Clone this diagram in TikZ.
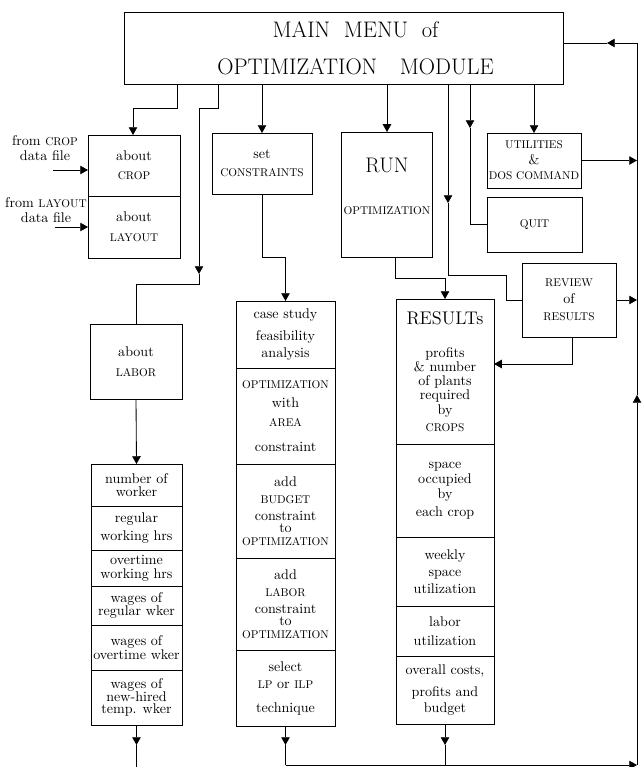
\documentclass[tikz,border=0pt]{standalone}
\usepackage{fontspec}
\usepackage{tikz}
\usetikzlibrary{positioning,arrows.meta}
\newfontfamily\ucfont{lmroman10-regular.otf}
\newcommand{\uc}[1]{{\ucfont\fontsize{8}{9}\selectfont #1}}

\begin{document}
\begin{tikzpicture}[x=0.025cm, y=-0.025cm, line width=0.6pt,
    box/.style={rectangle, draw, align=center, inner sep=0pt, outer sep=0pt, font=\fontsize{10}{12}\selectfont},
    lbl/.style={align=center, inner sep=0pt, font=\fontsize{10}{11}\selectfont},
    arr/.style={-{Triangle[length=5.5pt,width=6pt]}}]
    \useasboundingbox (0,0) rectangle (642,767);
    % main menu
    \node [box, minimum width=10.975cm, minimum height=1.8cm, font=\fontsize{16}{26}\selectfont] (main) at (343.5,48) {\hspace*{0.6cm}MAIN\ \ MENU\ \ of\\\hspace*{0.6cm}OPTIMIZATION\quad MODULE};

    % crop and layout
    \node [box, minimum width=2.3cm, minimum height=1.525cm, anchor=north] (crop) at (134,135) {about\\[1.5pt]\uc{CROP}};
    \node [box, minimum width=2.3cm, minimum height=1.55cm, below=0pt of crop] (layout) {about\\[2pt]\uc{LAYOUT}};
    \node [lbl] (fromcrop) at (45,148) {from \uc{CROP}\\data file};
    \node [lbl] (fromlayout) at (46,210) {from \uc{LAYOUT}\\data file};

    % single boxes
    \node [box, minimum width=2.5cm, minimum height=1.525cm] (setc) at (262,163.5) {set\\[1pt]\uc{CONSTRAINTS}};
    \node [box, minimum width=2.275cm, minimum height=3.125cm] (run) at (387,194.5) {{\fontsize{15}{17}\selectfont RUN}\\[18pt]\uc{OPTIMIZATION}\\[-0.6pt]\mbox{}};
    \node [box, minimum width=2.35cm, minimum height=1.375cm] (util) at (534,160.5) {\uc{UTILITIES}\\[-1pt]\&\\[-1pt]\uc{DOS COMMAND}};
    \node [box, minimum width=2.375cm, minimum height=1.375cm] (quit) at (534.5,224.5) {\uc{QUIT}};
    \node [box, minimum width=2.35cm, minimum height=1.85cm] (review) at (569,300) {\uc{REVIEW}\\of\\ \uc{RESULTS}};
    \node [box, minimum width=2.3cm, minimum height=1.875cm] (labor) at (136,361.5) {about\\[2pt]\uc{LABOR}};

    % constraints column
    \node [box, minimum width=2.475cm, minimum height=1.675cm, anchor=north] (casestudy) at (285.5,301) {case study\\[4pt]feasibility\\analysis};
    \node [box, minimum width=2.475cm, minimum height=2.4cm, below=0pt of casestudy] (area) {\uc{OPTIMIZATION}\\[1.5pt]with\\[1.5pt]\uc{AREA}\\[6pt]constraint};
    \node [box, minimum width=2.475cm, minimum height=2.35cm, below=0pt of area] (budget) {add\\ \uc{BUDGET}\\constraint\\[-3pt]to\\[-3pt]\uc{OPTIMIZATION}};
    \node [box, minimum width=2.475cm, minimum height=2.3cm, below=0pt of budget] (laborc) {add\\ \uc{LABOR}\\constraint\\[-3pt]to\\[-3pt]\uc{OPTIMIZATION}};
    \node [box, minimum width=2.475cm, minimum height=1.9cm, below=0pt of laborc] (select) {select\\ \uc{LP} or \uc{ILP}\\[5pt]technique};

    % results column
    \node [box, minimum width=2.45cm, minimum height=3.625cm, anchor=north] (results) at (445,299) {{\fontsize{13}{15}\selectfont RESULTs}\\[11.5pt]profits\\[-2pt]\& number\\[-2pt]of plants\\[-2pt]required\\[-1pt]by\\ \uc{CROPS}};
    \node [box, minimum width=2.45cm, minimum height=2.325cm, below=0pt of results] (space) {space\\[-1.3pt]occupied\\[-1.3pt]by\\[1pt]each crop};
    \node [box, minimum width=2.45cm, minimum height=1.725cm, below=0pt of space] (weekly) {weekly\\space\\utilization};
    \node [box, minimum width=2.45cm, minimum height=1.25cm, below=0pt of weekly] (laboru) {labor\\[1.5pt]utilization};
    \node [box, minimum width=2.45cm, minimum height=1.7cm, below=0pt of laboru] (overall) {overall costs,\\[3.6pt]profits and\\budget};

    % labor column
    \node [box, minimum width=2.275cm, minimum height=1.05cm, anchor=north] (nworker) at (136.5,464) {number of\\[-3pt]worker};
    \node [box, minimum width=2.275cm, minimum height=1.1cm, below=0pt of nworker] (reghrs) {regular\\[1pt]working hrs};
    \node [box, minimum width=2.275cm, minimum height=0.9cm, below=0pt of reghrs] (ovthrs) {overtime\\[-2pt]working hrs};
    \node [box, minimum width=2.275cm, minimum height=0.975cm, below=0pt of ovthrs] (wreg) {wages of\\[-3pt]regular wker};
    \node [box, minimum width=2.275cm, minimum height=1.125cm, below=0pt of wreg] (wovt) {wages of\\[-2pt]overtime wker};
    \node [box, minimum width=2.275cm, minimum height=1.375cm, below=0pt of wovt] (wtemp) {wages of\\[-3pt]new-hired\\[-3pt]temp. wker};

    % bend points
    \coordinate (c1a) at (177,108);
    \coordinate (c1b) at (133,108);
    \coordinate (c2a) at (218,108);
    \coordinate (c2b) at (199,108);
    \coordinate (c2c) at (199,274);
    \coordinate (c2d) at (199,284);
    \coordinate (c3) at (262,257);
    \coordinate (c4a) at (448,203);
    \coordinate (c4b) at (448,275);
    \coordinate (c4c) at (506,275);
    \coordinate (c5a) at (470,128);
    \coordinate (c6) at (395,278);
    \coordinate (c7) at (572,364);
    \coordinate (fc) at (53,170);
    \coordinate (fl) at (55,227);
    \coordinate (rtop) at (637,43);
    \coordinate (rarr) at (607,43);
    \coordinate (rmid) at (637,395);
    \coordinate (rbot) at (637,765);
    \coordinate (ya) at (0,745);
    \coordinate (yb) at (0,765);
    \coordinate (yc) at (0,767);

    % from main menu
    \draw [arr] (main.south -| c1a) -- (c1a) -- (c1b) -- (c1b |- crop.north);
    \draw [arr] (main.south -| c2a) -- (c2a) -- (c2b) -- (c2c);
    \draw (c2c) -- (c2d) -| (labor.north);
    \draw [arr] (main.south -| setc.north) -- (setc.north);
    \draw [arr] (main.south -| run.north) -- (run.north);
    \draw [arr] (main.south -| c4a) -- (c4a);
    \draw (c4a) -- (c4b) -- (c4c) |- (review.west);
    \draw [arr] (main.south -| c5a) -- (c5a);
    \draw (c5a) |- (quit.west);
    \draw [arr] (main.south -| util.north) -- (util.north);

    % data files
    \draw [arr] (fc) -- (fc -| crop.west);
    \draw [arr] (fl) -- (fl -| layout.west);

    % between boxes
    \draw [arr] (setc.south) -- (c3) -| (casestudy.north);
    \draw [arr] (run.south -| c6) -- (c6) -| (results.north);
    \draw [arr] (review.south -| c7) -- (c7) -- (c7 -| results.east);
    \draw [arr] (labor.south) -- (nworker.north);
    \draw [arr] (util.east) -- (util.east -| rtop);
    \draw [arr] (review.east) -- (review.east -| rtop);

    % bottom and return line
    \draw [arr] (wtemp.south) -- (wtemp.south |- ya);
    \draw (wtemp.south |- ya) -- (wtemp.south |- yc);
    \draw [arr] (select.south) -- (select.south |- ya);
    \draw (select.south |- ya) -- (select.south |- yb);
    \draw [arr] (overall.south) -- (overall.south |- ya);
    \draw (overall.south |- ya) -- (overall.south |- yb);
    \draw [arr] (select.south |- yb) -- (rbot);
    \draw [arr] (rbot) -- (rmid);
    \draw (rmid) -- (rtop);
    \draw [arr] (rtop) -- (rarr);
    \draw (rarr) -- (rtop -| main.east);
\end{tikzpicture}
\end{document}
